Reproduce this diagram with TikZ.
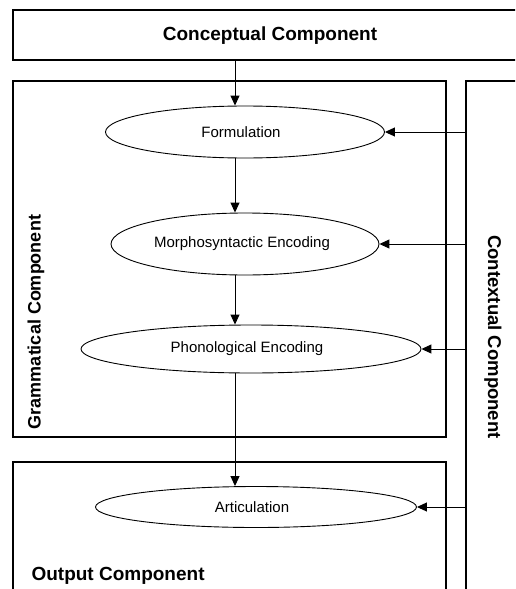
\documentclass[tikz,border=0pt]{standalone}
\usepackage{fontspec}
\setmainfont{Liberation Sans}
\usetikzlibrary{shapes.geometric,arrows.meta}
\begin{document}
\begin{tikzpicture}[x=1pt,y=-1pt,
  compbox/.style={draw,line width=2pt,rectangle,inner sep=0pt},
  proc/.style={draw,ellipse,line width=0.9pt,inner sep=0pt,font=\fontsize{15}{18}\selectfont},
  title/.style={font=\bfseries\fontsize{19}{22}\selectfont},
  flow/.style={-{Triangle[length=10pt,width=9pt]},line width=1pt}]
\useasboundingbox (0,0) rectangle (515,589);
\fill[white] (0,0) rectangle (515,589);
\clip (0,0) rectangle (515,589);
% component boxes
\node[compbox,minimum width=517pt,minimum height=50pt] (concept) at (271.5,35) {};
\node[compbox,minimum width=433pt,minimum height=356pt] (gram) at (229.5,259) {};
\node[compbox,minimum width=433pt,minimum height=158pt] (outp) at (229.5,541) {};
\node[compbox,minimum width=74pt,minimum height=539pt] (context) at (503,350.5) {};
% titles
\node[title] (concepttxt) at (270,36) {Conceptual Component};
\node[title,rotate=90,font=\bfseries\fontsize{18}{22}\selectfont] (gramtxt) at (36,322) {Grammatical Component};
\node[title,rotate=-90,font=\bfseries\fontsize{18.5}{22}\selectfont] (contexttxt) at (493,337) {Contextual Component};
\node[title,anchor=west] (outtxt) at (28,576) {Output Component};
% processes
\node[proc,minimum width=279pt,minimum height=52pt] (form) at (245,132) {\hspace*{-8pt}Formulation};
\node[proc,minimum width=268pt,minimum height=62pt] (morph) at (245,244) {\hspace*{-6pt}Morphosyntactic Encoding};
\node[proc,minimum width=340pt,minimum height=48pt] (phono) at (251,349) {\hspace*{-8pt}Phonological Encoding};
\node[proc,minimum width=321pt,minimum height=41pt] (artic) at (256,507) {\hspace*{-8pt}Articulation};
% vertical flow
\coordinate (axis) at (235,0);
\draw[flow] (concept.south -| axis) -- (axis |- form.north);
\draw[flow] (axis |- form.south) -- (axis |- morph.north);
\draw[flow] (axis |- morph.south) -- (axis |- phono.north);
\draw[flow] (axis |- phono.south) -- (axis |- artic.north);
% contextual influence
\draw[flow] (context.west |- form.east) -- (form.east);
\draw[flow] (context.west |- morph.east) -- (morph.east);
\draw[flow] (context.west |- phono.east) -- (phono.east);
\draw[flow] (context.west |- artic.east) -- (artic.east);
\end{tikzpicture}
\end{document}
